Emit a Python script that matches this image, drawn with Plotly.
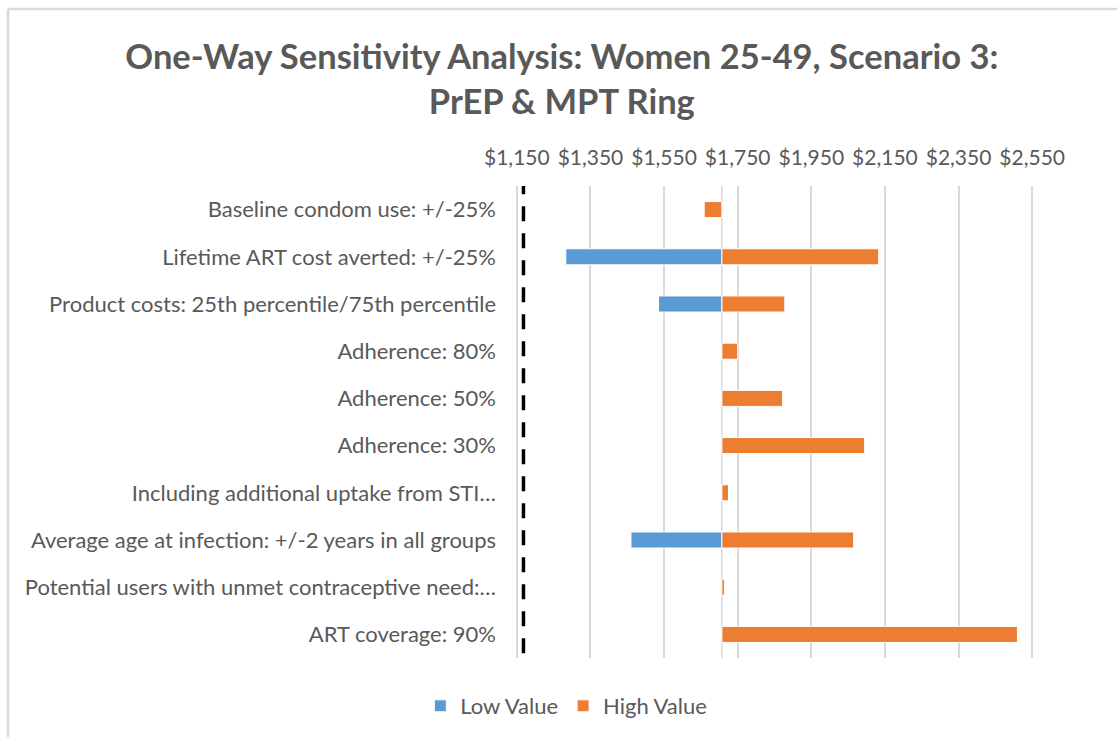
import plotly.graph_objects as go

# One-way sensitivity results (cost per outcome, USD)
categories = [
    "Baseline condom use: +/-25%",
    "Lifetime ART cost averted: +/-25%",
    "Product costs: 25th percentile/75th percentile",
    "Adherence: 80%",
    "Adherence: 50%",
    "Adherence: 30%",
    "Including additional uptake from STI…",
    "Average age at infection: +/-2 years in all groups",
    "Potential users with unmet contraceptive need:…",
    "ART coverage: 90%",
]
base_value = 1707
low_values = [1707, 1283, 1535, 1707, 1707, 1707, 1707, 1460, 1707, 1707]
high_values = [1659, 2133, 1878, 1750, 1872, 2095, 1725, 2065, 1714, 2510]
threshold = 1168
tick_values = [1150, 1350, 1550, 1750, 1950, 2150, 2350, 2550]
tick_labels = ["$1,150", "$1,350", "$1,550", "$1,750", "$1,950", "$2,150", "$2,350", "$2,550"]

BLUE = "#5B9BD5"
ORANGE = "#ED7D31"
GRAY_TEXT = "#595959"
GRID = "#D9D9D9"
FONT = "Lato"

fig = go.Figure()
fig.add_trace(go.Bar(
    name="Low Value", y=categories, x=[v - base_value for v in low_values],
    base=base_value, orientation="h", marker=dict(color=BLUE, line=dict(color="white", width=1)),
    width=0.34,
))
fig.add_trace(go.Bar(
    name="High Value", y=categories, x=[v - base_value for v in high_values],
    base=base_value, orientation="h", marker=dict(color=ORANGE, line=dict(color="white", width=1)),
    width=0.34,
))

L, R, T, B = 515, 83, 186, 79
W, H = 1117, 737
pw, ph = W - L - R, H - T - B

def px_x(p):
    return (p - L) / pw

def px_y(p):
    return (H - B - p) / ph

shapes = [
    # vertical axis line at the base case
    dict(type="line", xref="x", yref="paper", x0=base_value, x1=base_value, y0=0, y1=1,
         line=dict(color=GRID, width=1.5), layer="below"),
    # threshold marker
    dict(type="line", xref="x", yref="paper", x0=threshold, x1=threshold, y0=0.01, y1=1.0,
         line=dict(color="black", width=3.5, dash="15px,12px")),
    # chart frame
    dict(type="line", xref="paper", yref="paper", x0=px_x(8), x1=px_x(W + 5), y0=px_y(9), y1=px_y(9),
         line=dict(color=GRID, width=2.5)),
    dict(type="line", xref="paper", yref="paper", x0=px_x(8), x1=px_x(8), y0=px_y(9), y1=px_y(H + 5),
         line=dict(color=GRID, width=2.5)),
]

fig.update_layout(
    width=W, height=H,
    margin=dict(l=L, r=R, t=T, b=B),
    paper_bgcolor="white", plot_bgcolor="white",
    barmode="overlay",
    font=dict(family=FONT, color=GRAY_TEXT, size=22),
    title=dict(
        text="<b>One-Way Sensitivity Analysis: Women 25-49, Scenario 3:<br>PrEP &amp; MPT Ring</b>",
        x=0.503, xref="container", xanchor="center",
        y=1 - 69 / H, yref="container", yanchor="top",
        font=dict(family=FONT, size=34.5, color=GRAY_TEXT),
    ),
    xaxis=dict(
        range=[1145, 2555], side="top", tickvals=tick_values, ticktext=tick_labels,
        showgrid=True, gridcolor=GRID, gridwidth=1.5,
        zeroline=False, showline=False, ticks="",
        ticklabelstandoff=16, tickfont=dict(size=21, color=GRAY_TEXT),
    ),
    yaxis=dict(
        categoryorder="array", categoryarray=categories, autorange="reversed",
        showgrid=False, zeroline=False, showline=False, ticks="",
        ticklabelstandoff=18, tickfont=dict(size=22, color=GRAY_TEXT),
    ),
    legend=dict(
        orientation="h", x=0.507, xref="container", xanchor="center",
        y=1 - 706 / H, yref="container", yanchor="middle",
        font=dict(size=22, color=GRAY_TEXT), traceorder="normal",
    ),
    shapes=shapes,
)

fig.write_html("out.html")
